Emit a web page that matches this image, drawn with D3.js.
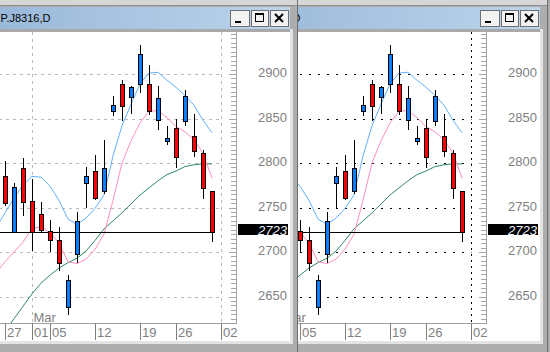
<!DOCTYPE html>
<html>
<head>
<meta charset="utf-8">
<script src="https://cdn.jsdelivr.net/npm/d3@7"></script>
<style>
  body { margin: 0; background: #ababab; overflow: hidden; }
  svg { display: block; font-family: "Liberation Sans", Arial, sans-serif; }
</style>
</head>
<body>
<div id="chart"></div>
<script>
// daily bars, J8316, Feb-Mar 2012
const dates = ["2012-02-24", "2012-02-27", "2012-02-28", "2012-02-29", "2012-03-01", "2012-03-02",
    "2012-03-05", "2012-03-06", "2012-03-07", "2012-03-08", "2012-03-09", "2012-03-12", "2012-03-13",
    "2012-03-14", "2012-03-15", "2012-03-16", "2012-03-19", "2012-03-21", "2012-03-22", "2012-03-23",
    "2012-03-26", "2012-03-27", "2012-03-28", "2012-03-29", "2012-03-30"];
const opens  = [null, 2785, 2723, 2794, 2757, 2743, 2724, 2714, 2638, 2698, 2778, 2791, 2768,
    2858, 2889, 2874, 2889, 2889, 2848, 2825, 2839, 2847, 2830, 2811, 2768];
const highs  = [null, 2802, 2777, 2806, 2782, 2756, 2736, 2728, 2674, 2745, 2796, 2809, 2826,
    2875, 2893, 2887, 2933, 2910, 2886, 2842, 2849, 2882, 2855, 2815, 2768];
const lows   = [null, 2753, 2722, 2742, 2702, 2722, 2701, 2680, 2630, 2689, 2751, 2759, 2766,
    2854, 2848, 2856, 2880, 2855, 2838, 2821, 2796, 2843, 2808, 2761, 2712];
const closes = [null, 2755, 2773, 2756, 2722, 2725, 2713, 2688, 2669, 2735, 2785, 2761, 2794,
    2865, 2864, 2885, 2923, 2858, 2873, 2828, 2807, 2875, 2813, 2772, 2723];

// moving averages
const maShort = [2727, 2744, 2761, 2775, 2785, 2784, 2774, 2758, 2737, 2731, 2738, 2749, 2764,
    2808, 2842, 2866, 2889, 2901, 2902, 2893, 2885, 2876, 2865, 2848, 2834];
const maMid   = [2676, 2689, 2700, 2711, 2727, 2728, 2722, 2710, 2689, 2687, 2692, 2703, 2720,
    2758, 2800, 2825, 2845, 2858, 2859, 2851, 2841, 2835, 2826, 2811, 2783];
const maLong  = [2590, 2611, 2625, 2639, 2653, 2665, 2674, 2682, 2688, 2693, 2701, 2713, 2726,
    2735, 2744, 2754, 2764, 2772, 2780, 2787, 2791, 2796, 2798, 2799, 2799];

const axisEnd = "2012-04-02";
const tickDates  = ["2012-02-27", "2012-03-01", "2012-03-05", "2012-03-12", "2012-03-19", "2012-03-26", "2012-04-02"];
const tickLabels = ["27", "01", "05", "12", "19", "26", "02"];
const monthDates  = ["2012-03-01", "2012-04-02"];
const monthLabel = "Mar";
const priceTicks = [2650, 2700, 2750, 2800, 2850, 2900];
const lastPrice = 2723;
const title = "P.J8316,D";

const width = 550, height = 352;
const plotTop = 32, plotBottom = 323, plotRight = 236, clientRight = 290;

const svg = d3.select("#chart")
    .append("svg")
    .attr("width", width)
    .attr("height", height);

const x = d3.scalePoint()
    .domain([...dates, axisEnd])
    .range([-4, 221]);

const y = d3.scaleLinear()
    .domain([2650, 2900])
    .range([296.5, 74]);

const px = v => Math.round(v) + 0.5;

const candles = dates.map((d, i) => ({date: d, o: opens[i], h: highs[i], l: lows[i], c: closes[i]}))
    .filter(d => d.o != null);

function drawWindow(id, dx, grid) {
    const win = svg.append("g").attr("transform", `translate(${dx},0)`);

    // window frame
    win.append("rect").attr("x", -400).attr("y", 0).attr("width", 698).attr("height", height).attr("fill", "#adadad");
    win.append("rect").attr("x", -400).attr("y", 0).attr("width", 698).attr("height", 5).attr("fill", "#d6d6d6");
    win.append("rect").attr("x", -400).attr("y", 5).attr("width", 698).attr("height", 1).attr("fill", "#8e8e8e");
    win.append("rect").attr("x", 297).attr("y", 0).attr("width", 1).attr("height", height).attr("fill", "#6e6e6e");

    const grad = win.append("defs").append("linearGradient")
        .attr("id", "title-" + id)
        .attr("gradientUnits", "userSpaceOnUse")
        .attr("x1", -60).attr("x2", clientRight).attr("y1", 0).attr("y2", 0);
    grad.append("stop").attr("offset", "0%").attr("stop-color", "#93b3d5");
    grad.append("stop").attr("offset", "100%").attr("stop-color", "#bcd4ec");

    win.append("rect").attr("x", -400).attr("y", 7).attr("width", 400 + clientRight).attr("height", 22)
        .attr("fill", `url(#title-${id})`);

    win.append("text")
        .attr("x", 0.5).attr("y", 21.5)
        .attr("font-size", "11px")
        .attr("fill", "#000")
        .text(title);

    // buttons
    const btns = [{x: 230, w: 19}, {x: 251, w: 17}, {x: 270, w: 18}];
    btns.forEach((b, i) => {
        const bg = win.append("g").attr("transform", `translate(${b.x},10)`);
        bg.append("rect").attr("x", 0.5).attr("y", 0.5).attr("width", b.w).attr("height", 16)
            .attr("fill", "#f2f2f2").attr("stroke", "#6f6f6f");
        if (i === 0) {
            bg.append("rect").attr("x", 5).attr("y", 11).attr("width", 6).attr("height", 2).attr("fill", "#000");
        } else if (i === 1) {
            bg.append("rect").attr("x", 4.5).attr("y", 3.5).attr("width", 8).attr("height", 8)
                .attr("fill", "none").attr("stroke", "#000");
            bg.append("rect").attr("x", 4).attr("y", 3).attr("width", 9).attr("height", 2).attr("fill", "#000");
        } else {
            bg.append("path").attr("d", "M5,4L13,12M13,4L5,12")
                .attr("stroke", "#000").attr("stroke-width", 2).attr("fill", "none");
        }
    });

    // client area
    win.append("rect").attr("x", -400).attr("y", 29).attr("width", 400 + clientRight).attr("height", 3).attr("fill", "#a9a9a9");
    win.append("rect").attr("x", -400).attr("y", plotTop).attr("width", 400 + clientRight).attr("height", 341 - plotTop).attr("fill", "#fff");
    win.append("rect").attr("x", clientRight).attr("y", 29).attr("width", 3).attr("height", 315).attr("fill", "#e4e4e4");
    win.append("rect").attr("x", -400).attr("y", 341).attr("width", 400 + clientRight + 3).attr("height", 3).attr("fill", "#e4e4e4");

    win.append("clipPath").attr("id", "clip-" + id)
        .append("rect").attr("x", -400).attr("y", plotTop).attr("width", 400 + plotRight).attr("height", plotBottom - plotTop);

    const plot = win.append("g").attr("clip-path", `url(#clip-${id})`);

    // grid
    plot.selectAll(".hgrid").data(priceTicks).join("line")
        .attr("x1", -400).attr("x2", px(x(axisEnd)))
        .attr("y1", d => px(y(d))).attr("y2", d => px(y(d)))
        .attr("stroke", grid.color).attr("stroke-dasharray", grid.dash);

    plot.selectAll(".vgrid").data(monthDates).join("line")
        .attr("x1", d => px(x(d))).attr("x2", d => px(x(d)))
        .attr("y1", plotTop).attr("y2", plotBottom)
        .attr("stroke", grid.color).attr("stroke-dasharray", grid.vdash);

    // moving averages
    const maLine = vals => d3.line()
        .x((d, i) => x(dates[i]))
        .y(d => y(d))(vals);

    [[maLong, "#2f8a5c"], [maMid, "#ff8cc4"], [maShort, "#62b0ff"]].forEach(([vals, col]) => {
        plot.append("path")
            .attr("d", maLine(vals))
            .attr("fill", "none")
            .attr("stroke", col)
            .attr("stroke-width", 1);
    });

    // last price line
    plot.append("line")
        .attr("x1", -400).attr("x2", x(dates[dates.length - 1]) + 1)
        .attr("y1", px(y(lastPrice))).attr("y2", px(y(lastPrice)))
        .attr("stroke", "#000");

    // candles
    plot.selectAll(".wick").data(candles).join("line")
        .attr("x1", d => x(d.date) + 0.5).attr("x2", d => x(d.date) + 0.5)
        .attr("y1", d => Math.round(y(d.h))).attr("y2", d => Math.round(y(d.l)) + 1)
        .attr("stroke", "#000");

    plot.selectAll(".body").data(candles).join("rect")
        .attr("x", d => x(d.date) - 1.5)
        .attr("y", d => px(y(Math.max(d.o, d.c))))
        .attr("width", 4)
        .attr("height", d => Math.max(1, Math.round(y(Math.min(d.o, d.c))) - Math.round(y(Math.max(d.o, d.c)))))
        .attr("fill", d => d.c >= d.o ? "#0a7cff" : "#ff0000")
        .attr("stroke", "#000");

    // plot border
    win.append("line").attr("x1", -400).attr("x2", plotRight + 0.5).attr("y1", plotBottom + 0.5).attr("y2", plotBottom + 0.5).attr("stroke", "#a0a0a0");
    win.append("line").attr("x1", plotRight + 0.5).attr("x2", plotRight + 0.5).attr("y1", plotTop).attr("y2", plotBottom + 1).attr("stroke", "#a0a0a0");

    // minor ticks on the price side
    const minor = d3.range(2625, 2950, 5).filter(v => y(v) > plotTop && y(v) < plotBottom);
    win.selectAll(".mtick").data(minor).join("line")
        .attr("x1", d => d % 50 === 0 ? plotRight - 7 : plotRight - 5).attr("x2", plotRight)
        .attr("y1", d => px(y(d))).attr("y2", d => px(y(d)))
        .attr("stroke", "#a8a8a8");

    // price labels
    win.selectAll(".plabel").data(priceTicks).join("text")
        .attr("x", 287).attr("y", d => y(d) + 3)
        .attr("text-anchor", "end")
        .attr("font-size", "13px")
        .attr("fill", "#808080")
        .text(d => d);

    win.append("rect").attr("x", 238).attr("y", 224).attr("width", 50).attr("height", 11).attr("fill", "#000");
    win.append("text")
        .attr("x", 287).attr("y", 234.5)
        .attr("text-anchor", "end")
        .attr("font-size", "13px")
        .attr("font-style", "italic")
        .attr("fill", "#eef4ff")
        .text(lastPrice);

    // date axis
    win.selectAll(".dtick").data(tickDates).join("line")
        .attr("x1", d => x(d) + 0.5).attr("x2", d => x(d) + 0.5)
        .attr("y1", plotBottom).attr("y2", 340)
        .attr("stroke", "#808080");

    win.selectAll(".dlabel").data(tickDates).join("text")
        .attr("x", d => x(d) + 2).attr("y", 336.5)
        .attr("font-size", "13px")
        .attr("fill", "#808080")
        .text((d, i) => tickLabels[i]);

    win.append("text")
        .attr("x", x(monthDates[0]) + 1.5).attr("y", 321.5)
        .attr("font-size", "13px")
        .attr("fill", "#808080")
        .text(monthLabel);
}

drawWindow("back", 250, {color: "#000", dash: "2,7", vdash: "2,4"});
drawWindow("front", 0, {color: "#b9b9b9", dash: "3,4", vdash: "3,4"});
</script>
</body>
</html>
